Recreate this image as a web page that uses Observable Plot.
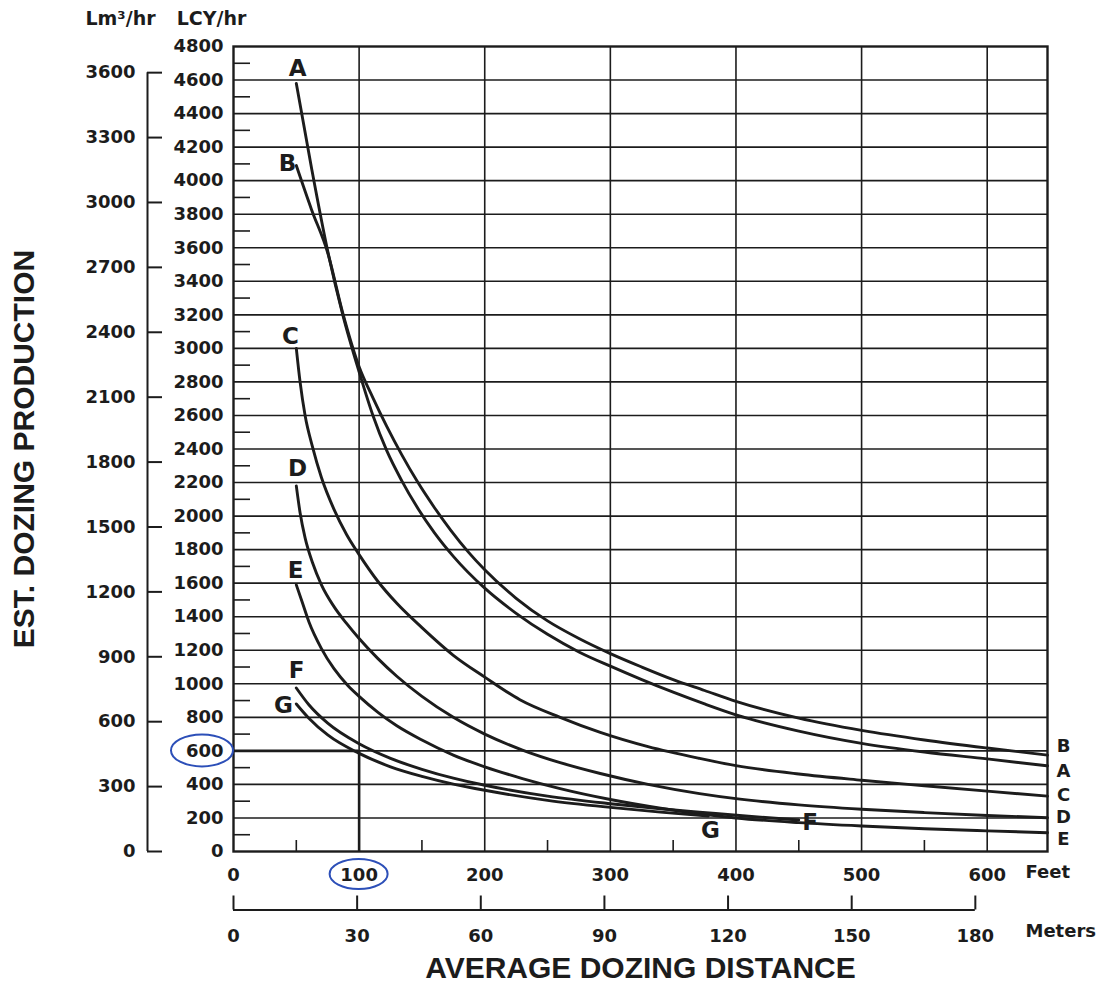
<!DOCTYPE html>
<html><head><meta charset="utf-8">
<script src="https://cdn.jsdelivr.net/npm/d3@7"></script>
<script src="https://cdn.jsdelivr.net/npm/@observablehq/plot@0.6"></script>
<style>
html,body{margin:0;padding:0;background:#fff;}
#chart{width:1103px;height:985px;}
</style></head><body><div id="chart"></div>
<script>
// ---------- data ----------
const feetTicks = [0, 100, 200, 300, 400, 500, 600];
const feetHalfTicks = [50, 150, 250, 350, 450, 550];
const meterTicks = [0, 30, 60, 90, 120, 150, 180];
const lcyTicks = [0, 200, 400, 600, 800, 1000, 1200, 1400, 1600, 1800, 2000, 2200, 2400, 2600, 2800, 3000, 3200, 3400, 3600, 3800, 4000, 4200, 4400, 4600, 4800];
const lcyMinorTicks = [100, 300, 500, 700, 900, 1100, 1300, 1500, 1700, 1900, 2100, 2300, 2500, 2700, 2900, 3100, 3300, 3500, 3700, 3900, 4100, 4300, 4500, 4700];
const lm3Ticks = [0, 300, 600, 900, 1200, 1500, 1800, 2100, 2400, 2700, 3000, 3300, 3600];
const LM3_TO_LCY = 1.29;     // as printed on the chart's side scale
const FT_PER_M = 3.28084;

const curveA = [[50,4580],[62,4080],[75,3580],[87,3200],[100,2860],[111,2600],[122,2390],[134,2210],[146,2055],[160,1900],[175,1760],[200,1570],[225,1420],[250,1295],[275,1190],[300,1105],[325,1025],[350,950],[375,880],[400,815],[450,718],[500,645],[550,593],[600,552],[648,511]];
const curveB = [[50,4090],[62,3830],[75,3570],[87,3210],[100,2890],[111,2705],[122,2535],[134,2365],[146,2210],[160,2050],[173,1915],[187,1785],[200,1680],[225,1510],[250,1375],[275,1270],[300,1180],[325,1100],[350,1025],[375,960],[400,895],[450,795],[500,722],[550,665],[600,617],[648,575]];
const curveC = [[50,3000],[53,2800],[57,2600],[63,2410],[70,2230],[80,2040],[90,1890],[100,1770],[115,1610],[130,1480],[150,1335],[175,1170],[200,1040],[228,905],[260,800],[292,710],[330,625],[371,555],[400,512],[450,462],[500,425],[550,392],[600,360],[648,330]];
const curveD = [[50,2180],[53,2020],[57,1870],[63,1720],[70,1590],[80,1460],[90,1360],[100,1270],[115,1150],[130,1045],[150,925],[175,800],[200,700],[230,605],[260,530],[292,465],[330,400],[371,345],[400,315],[450,278],[500,252],[550,232],[600,215],[648,201]];
const curveE = [[50,1590],[55,1480],[60,1370],[70,1210],[80,1090],[91,990],[100,925],[115,830],[130,750],[150,665],[175,575],[200,505],[230,435],[260,375],[300,310],[340,258],[371,225],[400,200],[450,172],[500,152],[550,136],[600,123],[648,112]];
const curveF = [[50,975],[60,875],[75,765],[100,642],[125,555],[150,490],[175,437],[200,395],[250,330],[300,285],[340,255],[371,235],[410,210],[450,188]];
const curveG = [[50,880],[60,795],[75,695],[100,585],[125,505],[150,448],[175,402],[200,365],[250,305],[300,263],[340,235],[378,212]];

const curveNames = ["A","B","C","D","E","F","G"];
const curveValues = [curveA, curveB, curveC, curveD, curveE, curveF, curveG];

const startLabels = [
  {name:"A", ft:51, lcy:4669},
  {name:"B", ft:43, lcy:4102},
  {name:"C", ft:45.4, lcy:3071},
  {name:"D", ft:51, lcy:2284},
  {name:"E", ft:49.4, lcy:1675},
  {name:"F", ft:50.2, lcy:1079},
  {name:"G", ft:39.8, lcy:870},
  {name:"G", ft:379.7, lcy:125},
  {name:"F", ft:459, lcy:173}
];
const endLabels = [
  {name:"B", lcy:626},
  {name:"A", lcy:477},
  {name:"C", lcy:334},
  {name:"D", lcy:203},
  {name:"E", lcy:72}
];

// ---------- build table ----------
const rows = [];
curveValues.forEach((c, i) => c.forEach(([ft, lcy]) => rows.push({name: curveNames[i], ft, lcy})));

// ---------- layout ----------
const W = 1103, H = 985;
const mL = 233, mR = 56, mT = 46, mB = 134;
const xMax = 648, yMax = 4800;
const pxPerFt = (W - mL - mR) / xMax;
const pxPerLcy = (H - mT - mB) / yMax;
const ftOff = px => px / pxPerFt;      // pixel offset -> feet offset
const lcyOff = px => px / pxPerLcy;    // pixel offset -> LCY offset

const ink = "#1c1c1c";
const small = {fontFamily: "DejaVu Sans", fontWeight: "bold", fontSize: 18, fill: ink};
const big = {fontFamily: "Liberation Sans, Arial, sans-serif", fontWeight: "bold", fontSize: 30, fill: ink};

const xLm = -ftOff(86);   // left side scale line
const yMeter = -lcyOff(58.5);

const chart = Plot.plot({
  width: W, height: H,
  marginLeft: mL, marginRight: mR, marginTop: mT, marginBottom: mB,
  x: {domain: [0, xMax], axis: null},
  y: {domain: [0, yMax], axis: null},
  style: {background: "white", overflow: "visible"},
  marks: [
    // grid
    Plot.ruleY(lcyTicks.filter(d => d > 0 && d < yMax), {stroke: ink, strokeWidth: 1.6}),
    Plot.ruleX(feetTicks.filter(d => d > 0), {stroke: ink, strokeWidth: 1.6}),
    Plot.ruleY(lcyMinorTicks, {x1: 0, x2: ftOff(17), stroke: ink, strokeWidth: 1.6}),
    Plot.ruleX(feetHalfTicks, {y1: 0, y2: lcyOff(11), stroke: ink, strokeWidth: 1.6}),
    // emphasised reading line (600 LCY at 100 ft)
    Plot.ruleY([600], {x1: 0, x2: 100, stroke: ink, strokeWidth: 2.6}),
    Plot.ruleX([100], {y1: 0, y2: 600, stroke: ink, strokeWidth: 2.6}),
    Plot.frame({stroke: ink, strokeWidth: 2.4}),
    // curves
    Plot.line(rows, {x: "ft", y: "lcy", z: "name", curve: "monotone-x", stroke: ink, strokeWidth: 2.9, strokeLinecap: "round"}),
    // curve labels
    Plot.text(startLabels, {x: "ft", y: "lcy", text: "name", ...small, fontSize: 23}),
    Plot.text(endLabels, {x: () => xMax, y: "lcy", text: "name", dx: 16, ...small, fontSize: 18}),
    // LCY axis labels
    Plot.text(lcyTicks, {y: d => d, frameAnchor: "left", dx: -10, textAnchor: "end", text: d => String(d), ...small}),
    // Lm3 side scale
    Plot.ruleX([xLm], {y1: 0, y2: lm3Ticks[lm3Ticks.length - 1] * LM3_TO_LCY, stroke: ink, strokeWidth: 2}),
    Plot.ruleY(lm3Ticks, {y: d => d * LM3_TO_LCY, x1: xLm, x2: xLm + ftOff(15), stroke: ink, strokeWidth: 2}),
    Plot.text(lm3Ticks, {y: d => d * LM3_TO_LCY, frameAnchor: "left", dx: -98, textAnchor: "end", text: d => String(d), ...small}),
    // feet axis labels
    Plot.text(feetTicks, {x: d => d, frameAnchor: "bottom", dy: 24, lineAnchor: "middle", textAnchor: "middle", text: d => String(d), ...small}),
    Plot.text(["Feet"], {x: () => xMax, frameAnchor: "bottom", dy: 21, dx: -22, lineAnchor: "middle", textAnchor: "start", text: d => d, ...small}),
    // meters scale
    Plot.ruleY([yMeter], {x1: 0, x2: meterTicks[meterTicks.length - 1] * FT_PER_M, stroke: ink, strokeWidth: 2}),
    Plot.ruleX(meterTicks, {x: d => d * FT_PER_M, y1: yMeter, y2: yMeter + lcyOff(14), stroke: ink, strokeWidth: 2}),
    Plot.text(meterTicks, {x: d => d * FT_PER_M, frameAnchor: "bottom", dy: 85, lineAnchor: "middle", textAnchor: "middle", text: d => String(d), ...small}),
    Plot.text(["Meters"], {x: () => xMax, frameAnchor: "bottom", dy: 80, dx: -22, lineAnchor: "middle", textAnchor: "start", text: d => d, ...small}),
    // titles
    Plot.text(["AVERAGE DOZING DISTANCE"], {frameAnchor: "bottom", dy: 117, lineAnchor: "middle", textAnchor: "middle", text: d => d, ...big}),
    Plot.text(["EST. DOZING PRODUCTION"], {frameAnchor: "left", dx: -209, rotate: -90, lineAnchor: "middle", textAnchor: "middle", text: d => d, ...big}),
    Plot.text(["Lm³/hr"], {frameAnchor: "top-left", dx: -113, dy: -28, lineAnchor: "middle", textAnchor: "middle", text: d => d, ...small, fontSize: 19}),
    Plot.text(["LCY/hr"], {frameAnchor: "top-left", dx: -22, dy: -28, lineAnchor: "middle", textAnchor: "middle", text: d => d, ...small, fontSize: 19})
  ]
});

// hand-drawn blue circles around the 600 and 100 readings
const sx = chart.scale("x"), sy = chart.scale("y");
const blue = "#2c4fb8";
const ann = d3.select(chart).append("g").attr("fill", "none").attr("stroke", blue).attr("stroke-width", 2);
ann.append("ellipse").attr("cx", sx.apply(0) - 31).attr("cy", sy.apply(600)).attr("rx", 31).attr("ry", 16);
ann.append("ellipse").attr("cx", sx.apply(100)).attr("cy", sy.apply(0) + 23).attr("rx", 29).attr("ry", 15);
document.getElementById("chart").appendChild(chart);
</script></body></html>
